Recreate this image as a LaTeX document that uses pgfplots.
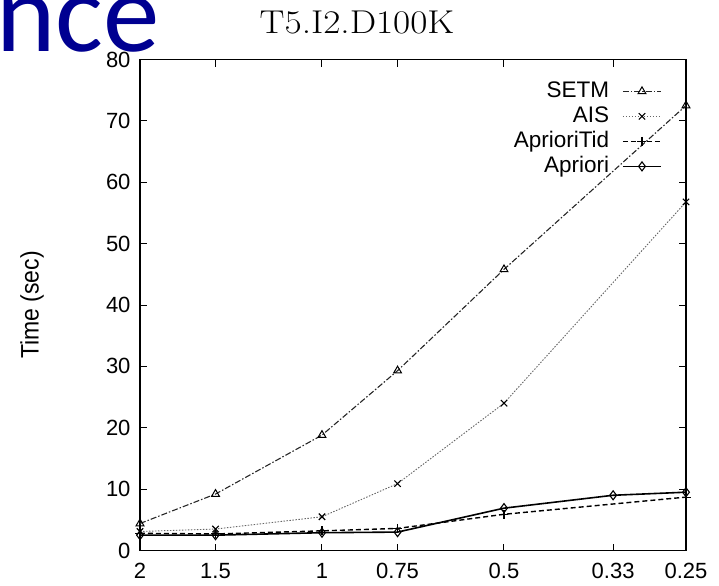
\documentclass[border=0pt]{standalone}
\usepackage{pgfplots}
\pgfplotsset{compat=1.18}
\usepackage{fontspec}
\newfontfamily\arial{Liberation Sans}
\newfontfamily\calibri{Carlito}
\definecolor{slideblue}{RGB}{0,0,145}

\begin{document}
\begin{tikzpicture}
\useasboundingbox (0,0) rectangle (719bp,-586bp);
% slide heading, cut off at the left
\node[anchor=base west, inner sep=0pt, text=slideblue,
      font=\calibri\fontsize{113bp}{113bp}\selectfont] at (-4bp,-51bp) {nce};
\node[font=\fontsize{33bp}{33bp}\selectfont] at (357bp,-22bp) {\scalebox{1.13}[1]{T5.I2.D100K}};
\node[rotate=90, font=\arial\fontsize{23bp}{23bp}\selectfont] at (32bp,-305bp) {\scalebox{1}[1.1]{Time (sec)}};
\begin{axis}[
    at={(140bp,-550.5bp)}, anchor=south west,
    scale only axis, width=546bp, height=491bp,
    xmode=log, x dir=reverse,
    xmin=0.25, xmax=2, ymin=0, ymax=80,
    xtick={2,1.5,1,0.75,0.5,0.33,0.25},
    xticklabels={2,1.5,1,0.75,0.5,0.33,0.25},
    minor xtick={},
    ytick={0,10,...,80},
    tick align=inside, major tick length=7bp,
    axis line style={line width=1.3bp},
    every tick/.style={black, line width=1bp},
    /pgf/number format/assume math mode=true,
    yticklabel style={font=\arial\fontsize{22bp}{22bp}\selectfont, xshift=-6bp},
    xticklabel style={font=\arial\fontsize{22bp}{22bp}\selectfont, yshift=-9bp},
    legend style={draw=none, fill=none, at={(0.9615,0.962)}, anchor=north east,
        font=\arial\fontsize{22.5bp}{22.5bp}\selectfont,
        nodes={inner sep=1bp, text height=16bp, text depth=4bp},
        row sep=3bp, column sep=12bp},
    legend plot pos=right, legend cell align=right,
    legend image code/.code={
        \draw[#1, mark repeat=2, mark phase=2] plot coordinates {(0bp,0bp) (19bp,0bp) (38bp,0bp)};},
]
\addplot[black!85, line width=1.1bp, dash pattern=on 6bp off 2bp on 1.5bp off 2bp,
    mark=triangle, mark size=4.5bp, mark options={solid, black, line width=1bp}]
    coordinates {(2,4.4) (1.5,9.2) (1,18.8) (0.75,29.3) (0.5,45.8) (0.25,72.5)};
\addlegendentry{SETM}
\addplot[black!60, line width=0.9bp, dash pattern=on 1.5bp off 1.5bp,
    mark=x, mark size=4.5bp, mark options={solid, black, line width=1.1bp}]
    coordinates {(2,3.1) (1.5,3.5) (1,5.5) (0.75,10.9) (0.5,24.0) (0.25,56.8)};
\addlegendentry{AIS}
\addplot[black, line width=1.4bp, dash pattern=on 5bp off 3bp,
    mark=+, mark size=4.5bp, mark options={solid, line width=1.1bp}]
    coordinates {(2,2.8) (1.5,2.7) (1,3.2) (0.75,3.6) (0.5,5.9) (0.25,8.7)};
\addlegendentry{AprioriTid}
\addplot[black, line width=1.6bp,
    mark=diamond, mark size=4.5bp, mark options={solid, line width=1.1bp}]
    coordinates {(2,2.5) (1.5,2.5) (1,2.9) (0.75,3.0) (0.5,6.9) (0.33,9.0) (0.25,9.5)};
\addlegendentry{Apriori}
\end{axis}
\end{tikzpicture}
\end{document}
